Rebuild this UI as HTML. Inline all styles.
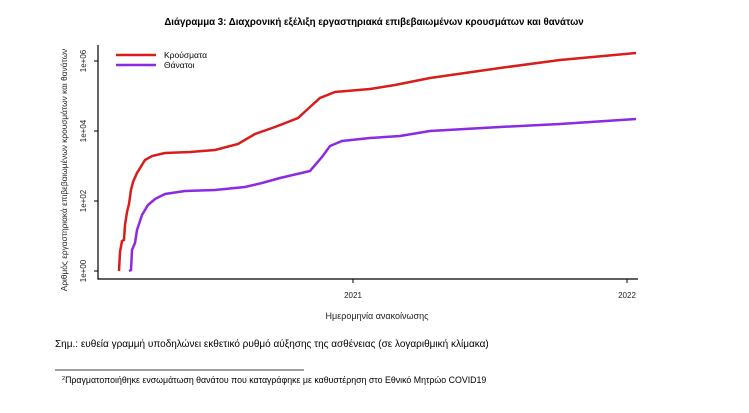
<!DOCTYPE html><html><head><meta charset="utf-8"><style>body{margin:0;background:#fff;width:749px;height:408px;overflow:hidden;font-family:"Liberation Sans",sans-serif}</style></head><body>
<svg width="749" height="408" xmlns="http://www.w3.org/2000/svg" font-family="Liberation Sans, sans-serif">
<text x="374" y="25" font-size="9.7" font-weight="bold" text-anchor="middle">Διάγραμμα 3: Διαχρονική εξέλιξη εργαστηριακά επιβεβαιωμένων κρουσμάτων και θανάτων</text>
<path d="M98,45V279H638" fill="none" stroke="#000" stroke-width="1.2"/>
<g stroke="#000"><line x1="94" y1="61" x2="98" y2="61"/><line x1="94" y1="131" x2="98" y2="131"/><line x1="94" y1="201" x2="98" y2="201"/><line x1="94" y1="271" x2="98" y2="271"/><line x1="353" y1="279" x2="353" y2="283"/><line x1="627" y1="279" x2="627" y2="283"/></g>
<g font-size="8" text-anchor="middle" fill="#222">
<text transform="translate(86,61) rotate(-90)">1e+06</text>
<text transform="translate(86,131) rotate(-90)">1e+04</text>
<text transform="translate(86,201) rotate(-90)">1e+02</text>
<text transform="translate(86,271) rotate(-90)">1e+00</text>
<text x="353" y="298">2021</text><text x="627" y="298">2022</text>
<text x="377" y="319" font-size="9">Ημερομηνία ανακοίνωσης</text>
<text transform="translate(67,170) rotate(-90)" font-size="8.3">Αριθμός εργαστηριακά επιβεβαιωμένων κρουσμάτων και θανάτων</text>
</g>
<line x1="116" y1="55" x2="156" y2="55" stroke="#d91c1c" stroke-width="2.5"/>
<line x1="116" y1="65" x2="156" y2="65" stroke="#8a2be2" stroke-width="2.5"/>
<text x="164" y="58" font-size="8.5">Κρούσματα</text><text x="164" y="68" font-size="8.5">Θάνατοι</text>
<polyline fill="none" stroke="#d91c1c" stroke-width="2.5" points="119,271 120,252 122,241 124,240 125,225 127,212 129,204 131,190 133,182 137,173 145,160 152,156 165,153 190,152 215,150 238,144 255,134 275,127 298,118 310,107 320,98 335,92 370,89 395,85 430,78 500,68 560,60 636,53"/>
<polyline fill="none" stroke="#8a2be2" stroke-width="2.5" points="129,271 131,270 132,250 135,243 137,230 142,215 148,205 155,199 165,194 185,191 215,190 245,187 262,183 280,178 310,171 322,157 330,146 342,141 370,138 400,136 430,131 500,127 560,124 636,119"/>
<text x="55" y="347" font-size="10">Σημ.: ευθεία γραμμή υποδηλώνει εκθετικό ρυθμό αύξησης της ασθένειας (σε λογαριθμική κλίμακα)</text>
<line x1="55" y1="370" x2="304" y2="370" stroke="#000" stroke-width="0.8"/>
<text x="62" y="383" font-size="8.8"><tspan font-size="5.5" dy="-3">2</tspan><tspan dy="3">Πραγματοποιήθηκε ενσωμάτωση θανάτου που καταγράφηκε με καθυστέρηση στο Εθνικό Μητρώο COVID19</tspan></text>
</svg></body></html>
